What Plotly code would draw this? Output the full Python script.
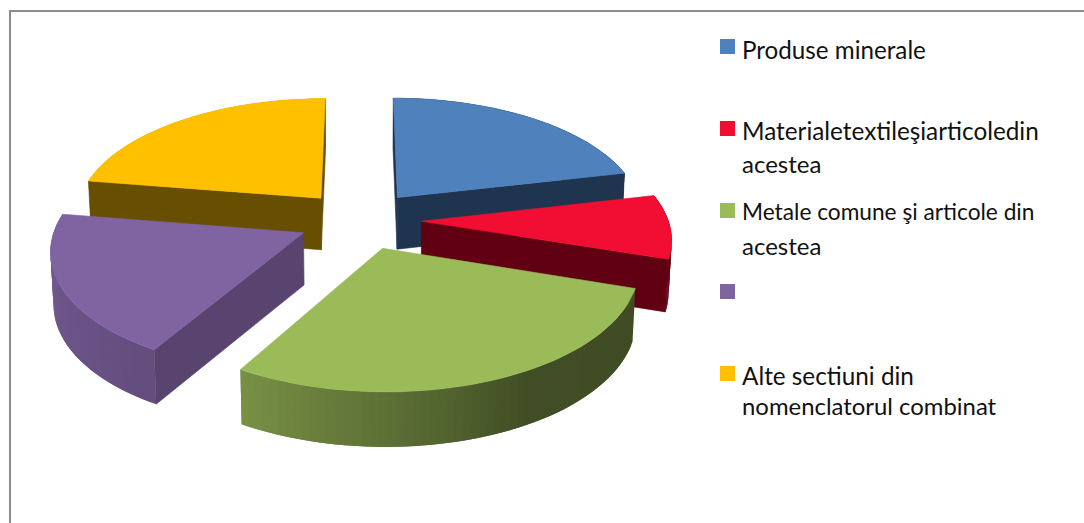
import numpy as np
import plotly.graph_objects as go

categories = ["Produse minerale", "Materiale textile si articole din acestea",
              "Metale comune si articole din acestea", "Sectiune fara eticheta",
              "Alte sectiuni din nomenclatorul combinat"]
values = [21.4, 8.6, 28.45, 19.05, 22.5]
top_colors = ["#4F81BD", "#F20D33", "#9BBB59", "#8064A2", "#FFC000"]
cut_colors = ["#1F344E", "#600012", "#3F4A25", "#59446F", "#674E00"]
draw_order = [0, 4, 1, 3, 2]

legend_text = ["Produse minerale", "Materialetextileşiarticoledin", "acestea",
               "Metale comune şi articole din", "acestea", "Alte sectiuni din", "nomenclatorul combinat"]
legend_text_y = [49.5, 130.5, 163.5, 211.5, 245.5, 375.5, 405.5]
legend_text_size = [24.2, 24.3, 24, 22.7, 24, 24.3, 23.9]
legend_box_y = [46.5, 128.5, 210.5, 291.5, 373.5]

CX, CY, A, B, K, EXPLODE, DEPTH, LEAN = 360, 220, 246.5, 117.5, 0.127, 0.25, 52, 0.99
SHADE_T = [77, 150, 170, 210, 280, 360]
SHADE_V = [0.40, 0.42, 0.55, 0.78, 0.92, 0.92]


def project(X, Y):
    w = 1 - K * Y
    return CX + A * X / w, CY + B * Y / w, DEPTH / w ** 0.33


def lower(x, y, d):
    return CX + (x - CX) * LEAN, y + d


def rgb(color, f):
    r, g, b = int(color[1:3], 16), int(color[3:5], 16), int(color[5:7], 16)
    return f"rgb({int(r*f)},{int(g*f)},{int(b*f)})"


def poly(fig, xs, ys, color, lw=0.6):
    fig.add_trace(go.Scatter(x=list(xs), y=list(ys), mode="lines", fill="toself", fillcolor=color,
                             line=dict(color=color, width=lw), hoverinfo="skip", showlegend=False))


fig = go.Figure()
edges = np.concatenate([[0], np.cumsum(values)]) / sum(values) * 360

for i in draw_order:
    t0, t1 = edges[i], edges[i + 1]
    mid = np.radians((t0 + t1) / 2)
    ox, oy = EXPLODE * np.sin(mid), -EXPLODE * np.cos(mid)
    th = np.radians(np.linspace(t0, t1, 61))
    x, y, d = project(ox + np.sin(th), oy - np.cos(th))
    ax, ay, ad = project(np.array(ox), np.array(oy))
    bx, by = lower(x, y, d)
    abx, aby = lower(ax, ay, ad)
    # outer rim, shaded by angle; each strip overlaps the next so no seams show
    n = len(th) - 1
    for j in range(n):
        k = min(j + 2, n)
        f = np.interp(np.degrees(th[j]), SHADE_T, SHADE_V)
        poly(fig, [x[j], x[k], bx[k], bx[j], x[j]], [y[j], y[k], by[k], by[j], y[j]],
             rgb(top_colors[i], f), lw=0)
    # radial cut faces: only the ones whose outward side points down the screen
    for j in (0, -1):
        ex, ey = x[j] - ax, y[j] - ay
        inside = ex * (y[30] - ay) - ey * (x[30] - ax)
        down = ex * 1.0
        if inside * down < 0:
            poly(fig, [ax, x[j], bx[j], abx, ax], [ay, y[j], by[j], aby, ay], cut_colors[i])
    # top face
    poly(fig, np.r_[ax, x, ax], np.r_[ay, y, ay], top_colors[i])

fig.add_trace(go.Scatter(x=[727.5] * 5, y=legend_box_y, mode="markers",
                         marker=dict(symbol="square", size=15, color=top_colors, line=dict(width=0)),
                         hoverinfo="skip", showlegend=False))
for text, y, size in zip(legend_text, legend_text_y, legend_text_size):
    fig.add_annotation(x=739.5, y=y, text=text, showarrow=False, xanchor="left", yanchor="middle",
                       font=dict(family="Lato", size=size, color="#111111"))

fig.add_shape(type="rect", x0=10, y0=11, x1=1100, y1=540, line=dict(color="#8C8C8C", width=2), layer="below")
fig.update_xaxes(range=[0, 1084], visible=False, fixedrange=True)
fig.update_yaxes(range=[523, 0], visible=False, fixedrange=True)
fig.update_layout(width=1084, height=523, margin=dict(l=0, r=0, t=0, b=0), paper_bgcolor="white",
                  plot_bgcolor="white", showlegend=False)
fig.write_html("out.html", post_script="document.body.style.margin='0';document.body.style.overflow='hidden';",
               config={"displayModeBar": False})
